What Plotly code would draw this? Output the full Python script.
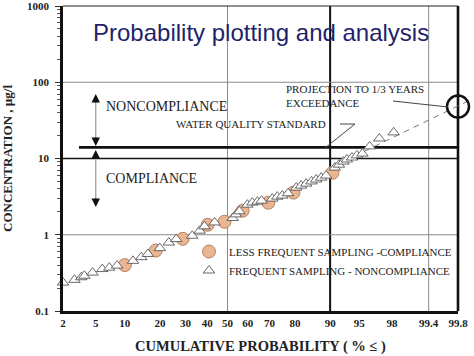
import math
from statistics import NormalDist
import plotly.graph_objects as go

# ---------------- data ----------------
tick_probs = [2, 5, 10, 20, 30, 40, 50, 60, 70, 80, 90, 95, 98, 99.4, 99.8]
tick_labels = ["2", "5", "10", "20", "30", "40", "50", "60", "70", "80", "90", "95", "98", "99.4", "99.8"]
y_tick_vals = [0.1, 1, 10, 100, 1000]
y_tick_labels = ["0.1", "1", "10", "100", "1000"]

less_p = [10, 18.5, 28.8, 40.2, 48.5, 57.5, 69.5, 79.5, 90.5]
less_v = [0.40, 0.62, 0.885, 1.35, 1.48, 2.07, 2.63, 3.57, 6.5]

freq_p = [2.0, 2.8, 3.4, 3.7, 4.6, 5.9, 7.0, 8.4, 11.9, 14.1, 16.0, 19.9, 23.2, 26.1,
          33.0, 36.4, 38.7, 43.6, 52.6, 54.2, 55.9, 59.8, 62.2, 64.6, 66.5, 71.2, 73.3,
          75.3, 77.5, 80.5, 82.1, 83.7, 85.3, 86.6, 87.9, 89.1, 91.0, 91.8, 92.6, 93.2,
          94.0, 94.7, 95.4, 96.2, 97.1, 98.1]
freq_v = [0.236, 0.256, 0.277, 0.29, 0.319, 0.355, 0.37, 0.394, 0.455, 0.508, 0.56, 0.668,
          0.79, 0.877, 0.97, 1.13, 1.29, 1.45, 1.66, 1.85, 2.03, 2.48, 2.64, 2.72, 2.8, 2.98,
          3.16, 3.26, 3.5, 4.15, 4.41, 4.68, 5.0, 5.3, 5.6, 5.97, 7.6, 8.3, 9.1, 9.7, 10.3,
          11.0, 11.6, 14.4, 18.3, 22.0]

standard_value = 14
proj_p = [95.6, 99.89]
proj_v = [12.4, 60.7]
target_p, target_v = 99.8, 48

grid_gray_p = [50, 99.4]
grid_black_p = [90]
grid_gray_v = [1, 100]
grid_black_v = [10]

# ---------------- scales ----------------
ND = NormalDist()


def Z(p):
    return ND.inv_cdf(p / 100.0)


ZMIN, ZMAX = Z(2), Z(99.8)
YMIN, YMAX = -1, 3

# plot area in pixels (for layout decorations)
W, H = 474, 356
L, R, T, B = 63, 458, 6, 311


def xp(p):
    return (Z(p) - ZMIN) / (ZMAX - ZMIN)


def yp(v):
    return (math.log10(v) - YMIN) / (YMAX - YMIN)


def px(x):
    return (x - L) / (R - L)


def py(y):
    return (B - y) / (B - T)


SERIF = "Liberation Serif"
shapes = []
for p in grid_gray_p:
    shapes.append(dict(type="line", xref="paper", yref="paper", x0=xp(p), x1=xp(p), y0=0, y1=1,
                       line=dict(color="#8a8a8a", width=1), layer="below"))
for p in grid_black_p:
    shapes.append(dict(type="line", xref="paper", yref="paper", x0=xp(p), x1=xp(p), y0=0, y1=1,
                       line=dict(color="#111", width=2), layer="below"))
for v in grid_gray_v:
    shapes.append(dict(type="line", xref="paper", yref="paper", x0=0, x1=1, y0=yp(v), y1=yp(v),
                       line=dict(color="#8a8a8a", width=1), layer="below"))
for v in grid_black_v:
    shapes.append(dict(type="line", xref="paper", yref="paper", x0=0, x1=1, y0=yp(v), y1=yp(v),
                       line=dict(color="#111", width=1.6), layer="below"))
# water quality standard
shapes.append(dict(type="line", xref="paper", yref="paper", x0=px(79), x1=1,
                   y0=yp(standard_value), y1=yp(standard_value),
                   line=dict(color="#111", width=2.6), layer="below"))
# top border and right border
shapes.append(dict(type="line", xref="paper", yref="paper", x0=0, x1=1, y0=1, y1=1,
                   line=dict(color="#222", width=1)))
shapes.append(dict(type="line", xref="paper", yref="paper", x0=1, x1=1, y0=0, y1=1,
                   line=dict(color="#111", width=2.6)))
# projection dashed line
shapes.append(dict(type="line", xref="paper", yref="paper",
                   x0=xp(proj_p[0]), y0=yp(proj_v[0]), x1=xp(proj_p[1]), y1=yp(proj_v[1]),
                   line=dict(color="#777", width=1, dash="6px,5px")))
# target circle
shapes.append(dict(type="circle", xref="paper", yref="paper", xsizemode="pixel", ysizemode="pixel",
                   xanchor=xp(target_p), yanchor=yp(target_v), x0=-11, x1=11, y0=-11, y1=11,
                   line=dict(color="#111", width=2.5)))
# leader lines
shapes.append(dict(type="line", xref="paper", yref="paper", x0=px(393), y0=py(101), x1=px(448), y1=py(107),
                   line=dict(color="#444", width=1)))
shapes.append(dict(type="path", xref="paper", yref="paper",
                   path=f"M {px(340)} {py(124)} L {px(355)} {py(124)} L {px(325)} {py(148)}",
                   line=dict(color="#444", width=1)))
# arrow shafts (gray)
ax_x = xp(5)
shapes.append(dict(type="line", xref="paper", yref="paper", x0=ax_x, x1=ax_x, y0=py(96), y1=py(144),
                   line=dict(color="#999", width=1.2)))
shapes.append(dict(type="line", xref="paper", yref="paper", x0=ax_x, x1=ax_x, y0=py(152), y1=py(205),
                   line=dict(color="#999", width=1.2)))

annotations = []
# arrowheads
for tip_y, dy in [(94, 10), (146, -10), (150, 10), (207, -10)]:
    annotations.append(dict(xref="paper", yref="paper", x=ax_x, y=py(tip_y), ax=0, ay=dy,
                            text="", showarrow=True, arrowhead=2, arrowsize=1.3, arrowwidth=1.3,
                            arrowcolor="#111"))

annotations += [
    dict(xref="paper", yref="paper", x=px(261), y=py(32), xanchor="center", yanchor="middle",
         text="Probability plotting and analysis",
         showarrow=False, font=dict(family="Liberation Sans", size=24, color="#241f6b")),
    dict(xref="paper", yref="paper", x=px(104), y=py(106), xanchor="left", yanchor="middle",
         text="NONCOMPLIANCE",
         showarrow=False, font=dict(family=SERIF, size=14, color="#222")),
    dict(xref="paper", yref="paper", x=px(104), y=py(178), xanchor="left", yanchor="middle",
         text="COMPLIANCE",
         showarrow=False, font=dict(family=SERIF, size=14, color="#222")),
    dict(xref="paper", yref="paper", x=px(174), y=py(124), xanchor="left", yanchor="middle",
         text="WATER QUALITY STANDARD",
         showarrow=False, font=dict(family=SERIF, size=11, color="#222")),
    dict(xref="paper", yref="paper", x=px(284), y=py(96), xanchor="left", yanchor="middle", align="left",
         text="PROJECTION TO 1/3 YEARS<br>EXCEEDANCE",
         showarrow=False, font=dict(family=SERIF, size=11, color="#222")),
]

fig = go.Figure()
fig.add_trace(go.Scatter(
    x=[Z(p) for p in less_p], y=less_v, mode="markers",
    name="LESS FREQUENT SAMPLING -COMPLIANCE",
    marker=dict(symbol="circle", size=13, color="#ecb592", line=dict(color="#a06e52", width=0.8)),
    cliponaxis=False))
fig.add_trace(go.Scatter(
    x=[Z(p) for p in freq_p], y=freq_v, mode="markers",
    name="FREQUENT SAMPLING - NONCOMPLIANCE",
    marker=dict(symbol="triangle-up", size=10, color="white", line=dict(color="#444", width=0.8)),
    cliponaxis=False))

fig.update_layout(
    width=W, height=H, margin=dict(l=L, r=W - R, t=T, b=H - B, autoexpand=False),
    paper_bgcolor="white", plot_bgcolor="white",
    shapes=shapes, annotations=annotations,
    showlegend=True,
    legend=dict(x=px(189), y=py(237), xanchor="left", yanchor="top", bgcolor="rgba(0,0,0,0)",
                font=dict(family=SERIF, size=11, color="#222"), tracegroupgap=0),
    xaxis=dict(range=[ZMIN, ZMAX], tickvals=[Z(p) for p in tick_probs], ticktext=tick_labels,
               showgrid=False, zeroline=False, ticks="", automargin=False,
               ticklabeloverflow="allow",
               showline=True, linecolor="#111", linewidth=2.6,
               tickfont=dict(family=SERIF, size=11, color="#222", weight="bold"),
               title=dict(text="CUMULATIVE PROBABILITY ( % ≤ )", standoff=13,
                          font=dict(family=SERIF, size=14.5, color="#222", weight="bold"))),
    yaxis=dict(type="log", range=[YMIN, YMAX], tickvals=y_tick_vals, ticktext=y_tick_labels,
               showgrid=False, zeroline=False, ticks="outside", ticklen=5, tickcolor="#333",
               showline=True, linecolor="#111", linewidth=2.6, automargin=False,
               ticklabelstandoff=4, ticklabeloverflow="allow",
               minor=dict(ticks="outside", ticklen=3, tickcolor="#555", dtick="D1", showgrid=False),
               tickfont=dict(family=SERIF, size=11, color="#222", weight="bold"),
               title=dict(text="CONCENTRATION , µg/l", standoff=14,
                          font=dict(family=SERIF, size=13, color="#222", weight="bold"))),
)

fig.write_html("out.html", config={"displayModeBar": False},
               post_script="document.body.style.margin='0';")
